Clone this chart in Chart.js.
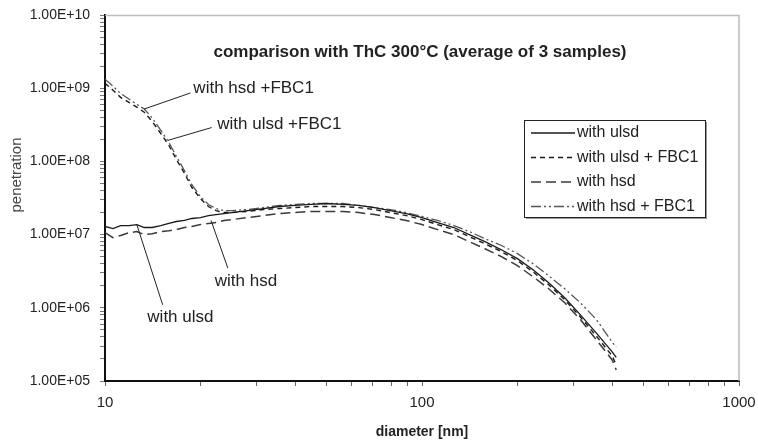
<!DOCTYPE html>
<html>
<head>
<meta charset="utf-8">
<script src="https://cdn.jsdelivr.net/npm/chart.js@4.4.1/dist/chart.umd.min.js"></script>
<style>
  html, body { margin: 0; padding: 0; background: #fff; }
  #wrap { width: 758px; height: 443px; }
</style>
</head>
<body>
<div id="wrap"><canvas id="chart" width="758" height="443"></canvas></div>
<script>
// particle diameter channels [nm]
const diameters = [10, 10.6, 11.2, 11.9, 12.6, 13.3, 14.1, 15.0, 15.9, 16.8, 17.8, 18.8, 20.0, 21.2, 22.4, 23.7, 25.1,
  28.2, 31.6, 35.5, 39.8, 44.7, 50.1, 56.2, 63.1, 70.8, 79.4, 89.1, 100, 112, 126, 141, 158, 178, 200, 224, 251, 282,
  316, 355, 398, 410];

const withUlsd = [1.29e7, 1.21e7, 1.33e7, 1.33e7, 1.37e7, 1.25e7, 1.25e7, 1.33e7, 1.42e7, 1.51e7, 1.56e7, 1.66e7, 1.71e7,
  1.82e7, 1.88e7, 1.94e7, 2.0e7, 2.13e7, 2.27e7, 2.42e7, 2.5e7, 2.58e7, 2.66e7, 2.58e7, 2.5e7, 2.34e7, 2.13e7, 1.94e7,
  1.71e7, 1.46e7, 1.25e7, 1.0e7, 8.0e6, 6.2e6, 4.7e6, 3.3e6, 2.2e6, 1.37e6, 8.0e5, 4.5e5, 2.5e5, 2.1e5];

const withUlsdFbc1 = [1.17e9, 9.4e8, 7.5e8, 6.4e8, 5.5e8, 4.7e8, 3.5e8, 2.4e8, 1.66e8, 1.06e8, 6.9e7, 4.4e7, 3.1e7,
  2.42e7, 2.13e7, 2.0e7, 2.0e7, 2.07e7, 2.2e7, 2.27e7, 2.34e7, 2.42e7, 2.42e7, 2.42e7, 2.34e7, 2.2e7, 2.0e7, 1.82e7,
  1.6e7, 1.37e7, 1.17e7, 9.4e6, 7.5e6, 5.85e6, 4.4e6, 3.1e6, 2.07e6, 1.29e6, 7.5e5, 4.1e5, 2.2e5, 1.66e5];

const withHsd = [1.06e7, 9.1e6, 9.7e6, 1.06e7, 1.1e7, 1.0e7, 1.03e7, 1.1e7, 1.13e7, 1.17e7, 1.25e7, 1.29e7, 1.37e7,
  1.42e7, 1.46e7, 1.56e7, 1.6e7, 1.71e7, 1.82e7, 1.94e7, 2.0e7, 2.07e7, 2.07e7, 2.07e7, 2.0e7, 1.88e7, 1.71e7, 1.56e7,
  1.37e7, 1.17e7, 1.0e7, 8.0e6, 6.4e6, 5.0e6, 3.76e6, 2.66e6, 1.82e6, 1.17e6, 6.9e5, 3.65e5, 1.94e5, 1.42e5];

const withHsdFbc1 = [1.33e9, 1.06e9, 8.5e8, 7.1e8, 6.0e8, 5.2e8, 3.9e8, 2.66e8, 1.82e8, 1.17e8, 7.5e7, 4.8e7, 3.3e7,
  2.58e7, 2.27e7, 2.13e7, 2.13e7, 2.2e7, 2.34e7, 2.5e7, 2.58e7, 2.66e7, 2.66e7, 2.66e7, 2.5e7, 2.34e7, 2.2e7, 2.0e7,
  1.77e7, 1.56e7, 1.33e7, 1.1e7, 8.8e6, 7.1e6, 5.5e6, 4.0e6, 2.74e6, 1.82e6, 1.17e6, 6.9e5, 3.4e5, 2.9e5];

const seriesNames = ['with ulsd', 'with ulsd + FBC1', 'with hsd', 'with hsd + FBC1'];

const xTickValues = [10, 100, 1000];
const xTickLabels = ['10', '100', '1000'];
const yTickValues = [1e5, 1e6, 1e7, 1e8, 1e9, 1e10];
const yTickLabels = ['1.00E+05', '1.00E+06', '1.00E+07', '1.00E+08', '1.00E+09', '1.00E+10'];

// text callouts in the plot, anchored in data coordinates
const callouts = [
  { text: 'with hsd +FBC1', from: [13.3, 5.2e8], to: [18.6, 8.6e8], at: [19.0, 1.0e9] },
  { text: 'with ulsd +FBC1', from: [15.8, 1.94e8], to: [21.7, 2.9e8], at: [22.6, 3.2e8] },
  { text: 'with hsd', from: [21.6, 1.56e7], to: [24.4, 3.5e6], at: [22.2, 2.27e6] },
  { text: 'with ulsd', from: [12.6, 1.37e7], to: [15.2, 1.1e6], at: [13.6, 7.3e5] },
];

const FONT = "'Liberation Sans', Arial, Helvetica, sans-serif";

function toPoints(values) {
  return diameters.map((d, i) => ({ x: d, y: values[i] }));
}

// log ticks: 1..9 x each decade, labels only on the decades
function logTicks(majors) {
  const out = [];
  for (let i = 0; i < majors.length - 1; i++) {
    for (let k = 1; k < 10; k++) out.push({ value: majors[i] * k });
  }
  out.push({ value: majors[majors.length - 1] });
  return out;
}

const datasets = [
  { label: seriesNames[0], data: toPoints(withUlsd), borderColor: '#1a1a1a', borderWidth: 1.3, borderDash: [] },
  { label: seriesNames[1], data: toPoints(withUlsdFbc1), borderColor: '#1a1a1a', borderWidth: 1.4, borderDash: [5, 4] },
  { label: seriesNames[2], data: toPoints(withHsd), borderColor: '#3a3a3a', borderWidth: 1.5, borderDash: [10, 5] },
  { label: seriesNames[3], data: toPoints(withHsdFbc1), borderColor: '#555', borderWidth: 1.3, borderDash: [10, 3, 2, 3, 2, 3] },
].map(d => ({ pointRadius: 0, tension: 0, fill: false, ...d }));

const extras = {
  id: 'extras',
  afterDatasetsDraw(chart) {
    const { ctx, chartArea: a, scales: { x, y } } = chart;
    ctx.save();
    // top and right frame
    ctx.strokeStyle = '#bbb';
    ctx.lineWidth = 1.5;
    ctx.beginPath();
    ctx.moveTo(a.left, a.top + 0.5);
    ctx.lineTo(a.right, a.top + 0.5);
    ctx.lineTo(a.right, a.bottom);
    ctx.stroke();

    // callouts
    ctx.strokeStyle = '#222';
    ctx.lineWidth = 1;
    ctx.fillStyle = '#222';
    ctx.font = `17px ${FONT}`;
    ctx.textBaseline = 'middle';
    ctx.textAlign = 'left';
    callouts.forEach(c => {
      ctx.beginPath();
      ctx.moveTo(x.getPixelForValue(c.from[0]), y.getPixelForValue(c.from[1]));
      ctx.lineTo(x.getPixelForValue(c.to[0]), y.getPixelForValue(c.to[1]));
      ctx.stroke();
      ctx.fillText(c.text, x.getPixelForValue(c.at[0]), y.getPixelForValue(c.at[1]));
    });

    // title
    ctx.font = `bold 17px ${FONT}`;
    ctx.textAlign = 'center';
    ctx.fillText('comparison with ThC 300°C (average of 3 samples)', 420, 52);

    // axis titles
    ctx.font = `bold 14px ${FONT}`;
    ctx.fillText('diameter [nm]', (a.left + a.right) / 2, 432);
    ctx.save();
    ctx.translate(17, 175);
    ctx.rotate(-Math.PI / 2);
    ctx.fillStyle = '#444';
    ctx.font = `15px ${FONT}`;
    ctx.fillText('penetration', 0, 0);
    ctx.restore();

    // legend box
    const lx = 524, ly = 120, lw = 181, lh = 97;
    ctx.fillStyle = '#999';
    ctx.fillRect(lx + 2, ly + 2, lw, lh);
    ctx.fillStyle = '#fff';
    ctx.fillRect(lx, ly, lw, lh);
    ctx.strokeStyle = '#222';
    ctx.lineWidth = 1;
    ctx.strokeRect(lx + 0.5, ly + 0.5, lw, lh);
    ctx.font = `16px ${FONT}`;
    ctx.textAlign = 'left';
    chart.data.datasets.forEach((ds, i) => {
      const ry = ly + 13 + i * 24.5;
      ctx.strokeStyle = ds.borderColor;
      ctx.lineWidth = ds.borderWidth;
      ctx.setLineDash(ds.borderDash);
      ctx.beginPath();
      ctx.moveTo(lx + 7, ry);
      ctx.lineTo(lx + 51, ry);
      ctx.stroke();
      ctx.setLineDash([]);
      ctx.fillStyle = '#222';
      ctx.fillText(ds.label, lx + 53, ry);
    });
    ctx.restore();
  },
};

new Chart(document.getElementById('chart'), {
  type: 'line',
  data: { datasets },
  options: {
    responsive: false,
    animation: false,
    events: [],
    layout: { padding: { left: 0, top: 15, right: 19, bottom: 0 } },
    plugins: { legend: { display: false }, tooltip: { enabled: false } },
    scales: {
      x: {
        type: 'logarithmic',
        min: 10,
        max: 1000,
        afterBuildTicks: s => { s.ticks = logTicks(xTickValues); },
        afterFit: s => { s.height = 62; s.paddingLeft = 0; s.paddingRight = 0; },
        grid: { drawOnChartArea: false, drawTicks: true, tickLength: 5, tickColor: '#666', tickWidth: 1 },
        border: { color: '#111', width: 2 },
        ticks: {
          autoSkip: false, maxRotation: 0, padding: 8, color: '#222',
          font: { family: FONT, size: 15 },
          callback: v => { const i = xTickValues.indexOf(v); return i >= 0 ? xTickLabels[i] : ''; },
        },
      },
      y: {
        type: 'logarithmic',
        min: 1e5,
        max: 1e10,
        afterBuildTicks: s => { s.ticks = logTicks(yTickValues); },
        afterFit: s => { s.width = 105; s.paddingTop = 0; s.paddingBottom = 0; },
        grid: { drawOnChartArea: false, drawTicks: true, tickLength: 5, tickColor: '#777', tickWidth: 1 },
        border: { color: '#111', width: 2 },
        ticks: {
          autoSkip: false, padding: 10, color: '#222',
          font: { family: FONT, size: 14 },
          callback: v => { const i = yTickValues.indexOf(v); return i >= 0 ? yTickLabels[i] : ''; },
        },
      },
    },
  },
  plugins: [extras],
});
</script>
</body>
</html>
